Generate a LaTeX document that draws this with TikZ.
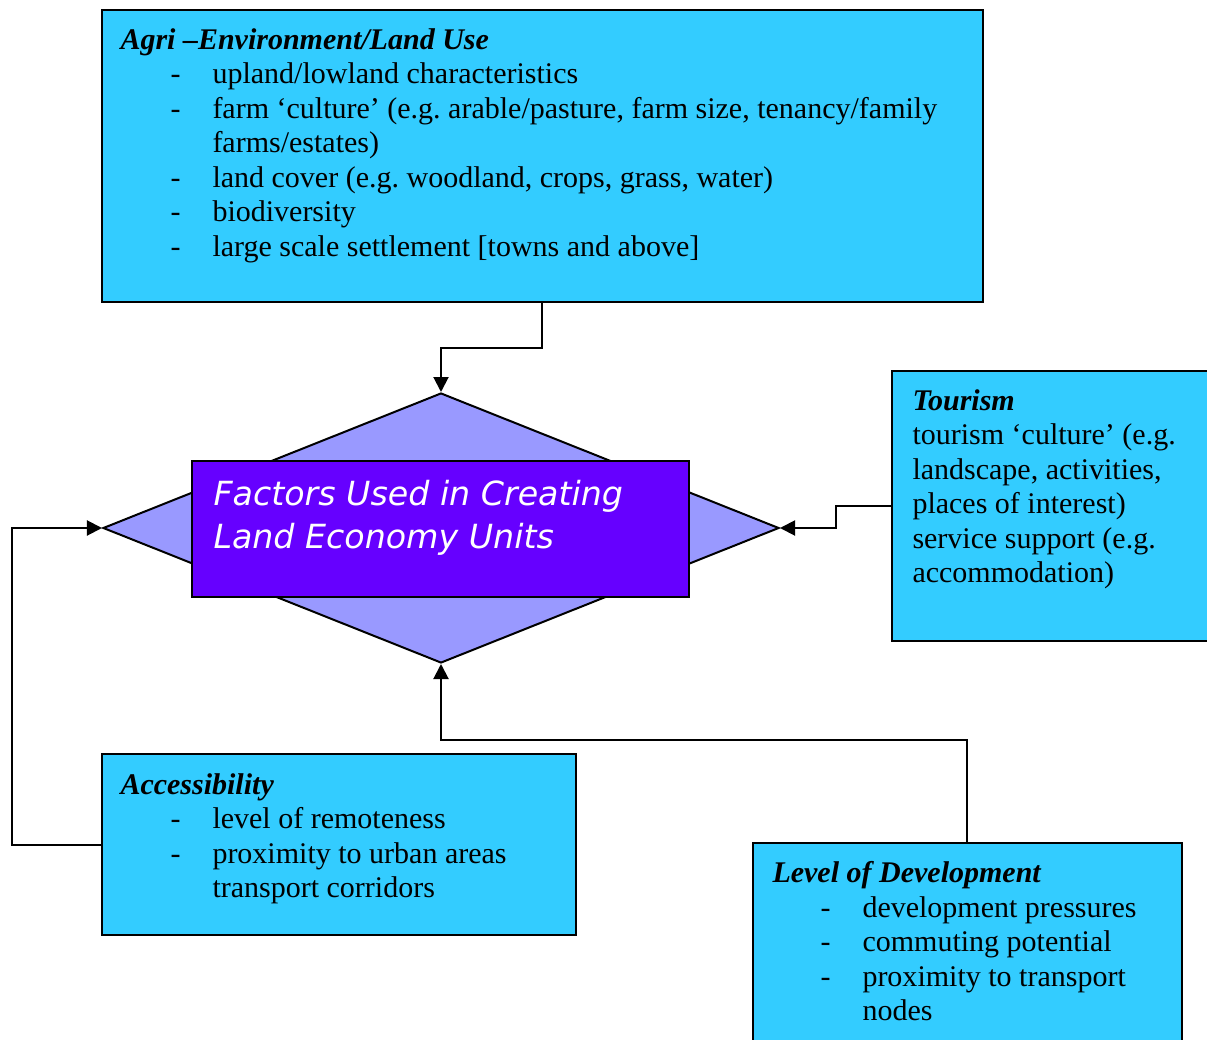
\documentclass[tikz,border=0pt]{standalone}
\usepackage{fontspec}
\setmainfont{Liberation Serif}
\newfontfamily\corefont{DejaVu Sans}
\usepackage{tikz}
\usetikzlibrary{arrows.meta,shapes.geometric,fit}
\frenchspacing

\definecolor{boxcyan}{HTML}{33CCFF}
\definecolor{lilac}{HTML}{9999FF}
\definecolor{violet}{HTML}{6600FF}
\newcommand{\itm}{\makebox[36.8pt][l]{\hspace{20pt}-}}
\newcommand{\cont}{\hspace*{36.8pt}}

\begin{document}
\begin{tikzpicture}[
      x=0.4pt, y=-0.4pt,
      box/.style={draw=black, fill=boxcyan, line width=0.8pt, inner sep=0pt},
      boxtext/.style={anchor=north west, align=left, inner sep=0pt, font=\fontsize{12}{13.8}\selectfont},
      factor/.style={diamond, draw=black, fill=lilac, line width=0.8pt, inner sep=0pt,
          minimum width=270.4pt, minimum height=108pt},
      core/.style={draw=black, fill=violet, line width=0.8pt, inner sep=0pt},
      coretext/.style={anchor=north west, align=left, inner sep=0pt, text=white,
          font=\corefont\itshape\fontsize{13.3}{17.2}\selectfont},
      link/.style={line width=0.8pt, -{Triangle[length=6pt, width=6pt]}}
  ]
    \clip (0,0) rectangle (1207,1040);

    % centre
    \node[factor] (lc) at (441,528) {};
    \node[core, fit={(192,461) (689,597)}] (core) {};
    \node[coretext] (coretxt) at (213,480) {Factors Used in Creating\\Land Economy Units};

    % boxes
    \node[box, fit={(102,10) (983,302)}] (agri) {};
    \node[boxtext] (agritxt) at (120,28) {\textbf{\textit{Agri –Environment/Land Use}}\\
      \itm upland/lowland characteristics\\
      \itm farm ‘culture’ (e.g. arable/pasture, farm size, tenancy/family\\
      \cont farms/estates)\\
      \itm land cover (e.g. woodland, crops, grass, water)\\
      \itm biodiversity\\
      \itm large scale settlement [towns and above]};

    \node[box, fit={(892,371) (1215,641)}] (tour) {};
    \node[boxtext] (tourtxt) at (912,389) {\textbf{\textit{Tourism}}\\
      tourism ‘culture’ (e.g.\\
      landscape, activities,\\
      places of interest)\\
      service support (e.g.\\
      accommodation)};

    \node[box, fit={(102,754) (576,935)}] (acc) {};
    \node[boxtext] (acctxt) at (120,773) {\textbf{\textit{Accessibility}}\\
      \itm level of remoteness\\
      \itm proximity to urban areas\\
      \cont transport corridors};

    \node[box, fit={(753,843) (1182,1050)}] (dev) {};
    \node[boxtext] (devtxt) at (772,861) {\textbf{\textit{Level of Development}}\\
      \makebox[36pt][l]{\hspace{19.2pt}-}development pressures\\
      \makebox[36pt][l]{\hspace{19.2pt}-}commuting potential\\
      \makebox[36pt][l]{\hspace{19.2pt}-}proximity to transport\\
      \hspace*{36pt}nodes};

    % connectors
    \coordinate (a1) at (542,348);
    \coordinate (t1) at (836,506);
    \coordinate (c1) at (12,845);
    \coordinate (d1) at (967,740);
    \draw[link] (a1 |- agri.south) -- (a1) -| (lc.north);
    \draw[link] (t1 -| tour.west) -- (t1) |- (lc.east);
    \draw[link] (acc.west |- c1) -- (c1) |- (lc.west);
    \draw[link] (d1 |- dev.north) -- (d1) -| (lc.south);
  \end{tikzpicture}
\end{document}
